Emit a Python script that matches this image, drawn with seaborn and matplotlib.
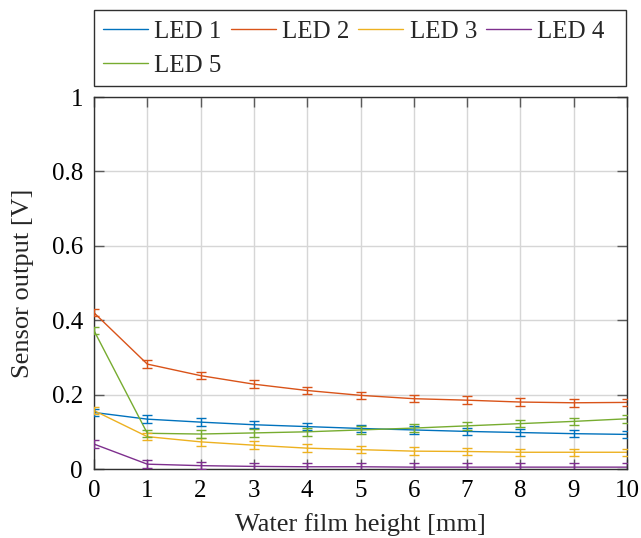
import numpy as np
import pandas as pd
import matplotlib
matplotlib.use("Agg")
import matplotlib.pyplot as plt
from matplotlib.patches import Rectangle
import seaborn as sns

# Water film height [mm]
height = [0, 1, 2, 3, 4, 5, 6, 7, 8, 9, 10]

# Mean sensor output [V] per LED
led1 = [0.152, 0.134, 0.126, 0.119, 0.114, 0.109, 0.105, 0.101, 0.098, 0.095, 0.093]
led2 = [0.420, 0.282, 0.251, 0.228, 0.211, 0.198, 0.189, 0.185, 0.180, 0.178, 0.179]
led3 = [0.157, 0.087, 0.073, 0.064, 0.056, 0.052, 0.048, 0.047, 0.045, 0.045, 0.045]
led4 = [0.067, 0.013, 0.009, 0.007, 0.006, 0.006, 0.005, 0.005, 0.005, 0.005, 0.005]
led5 = [0.372, 0.096, 0.094, 0.097, 0.100, 0.105, 0.110, 0.116, 0.122, 0.128, 0.135]

# Half-width of the error bars [V]
err = [0.01] * 11

labels = ["LED 1", "LED 2", "LED 3", "LED 4", "LED 5"]
colors = ["#0072BD", "#D95319", "#EDB120", "#7E2F8E", "#77AC30"]
series = [led1, led2, led3, led4, led5]

df = pd.concat(
    [pd.DataFrame({"height": height, "output": s, "err": err, "LED": lab})
     for s, lab in zip(series, labels)],
    ignore_index=True,
)

sns.set_style("white")
plt.rcParams["font.family"] = ["Liberation Serif", "DejaVu Serif"]

W, H = 641, 538
fig = plt.figure(figsize=(W / 100, H / 100), dpi=100)
ax = fig.add_axes([94 / W, 1 - 469 / H, (627 - 94) / W, (469 - 97) / H])

sns.lineplot(data=df, x="height", y="output", hue="LED", palette=colors,
             linewidth=1.0, ax=ax, legend=True, errorbar=None)

for lab, col in zip(labels, colors):
    d = df[df["LED"] == lab]
    ax.errorbar(d["height"], d["output"], yerr=d["err"], fmt="none",
                ecolor=col, elinewidth=1.0, capsize=3.5, capthick=1.0, zorder=3)

ax.set_xlim(0, 10)
ax.set_ylim(0, 1)
ax.set_xticks(range(0, 11))
ax.set_yticks([0, 0.2, 0.4, 0.6, 0.8, 1.0])
ax.set_yticklabels(["0", "0.2", "0.4", "0.6", "0.8", "1"])
ax.grid(True, color="#d6d6d6", linewidth=1.0)
ax.set_axisbelow(True)
for sp in ax.spines.values():
    sp.set_color("#303030")
    sp.set_linewidth(1.0)
ax.tick_params(direction="in", length=7.5, width=1.0, color="#5a5a5a",
               top=True, right=True, bottom=True, left=True,
               labelsize=18, labelcolor="black")
ax.tick_params(axis="y", pad=8)
ax.tick_params(axis="x", pad=8)

ax.set_xlabel("Water film height [mm]", fontsize=19, labelpad=8)
ax.set_ylabel("Sensor output [V]", fontsize=19, labelpad=13)

# Legend box spanning the plot width above the axes
fig.patches.append(Rectangle((94 / W, 1 - 86 / H), (626 - 94) / W, (86 - 10) / H,
                             transform=fig.transFigure, facecolor="white",
                             edgecolor="#303030", linewidth=1.0))

handles, labs = ax.get_legend_handles_labels()
order = [0, 4, 1, 2, 3]
leg = fig.legend([handles[i] for i in order], [labs[i] for i in order],
                 loc="upper left", ncol=4, bbox_to_anchor=(103 / W, 1 - 20 / H),
                 fontsize=18, frameon=False, borderaxespad=0, borderpad=0.0,
                 handlelength=1.8, handletextpad=0.25, columnspacing=0.36,
                 labelspacing=0.48)
ax.get_legend().remove()

fig.savefig("out.png", dpi=100)
